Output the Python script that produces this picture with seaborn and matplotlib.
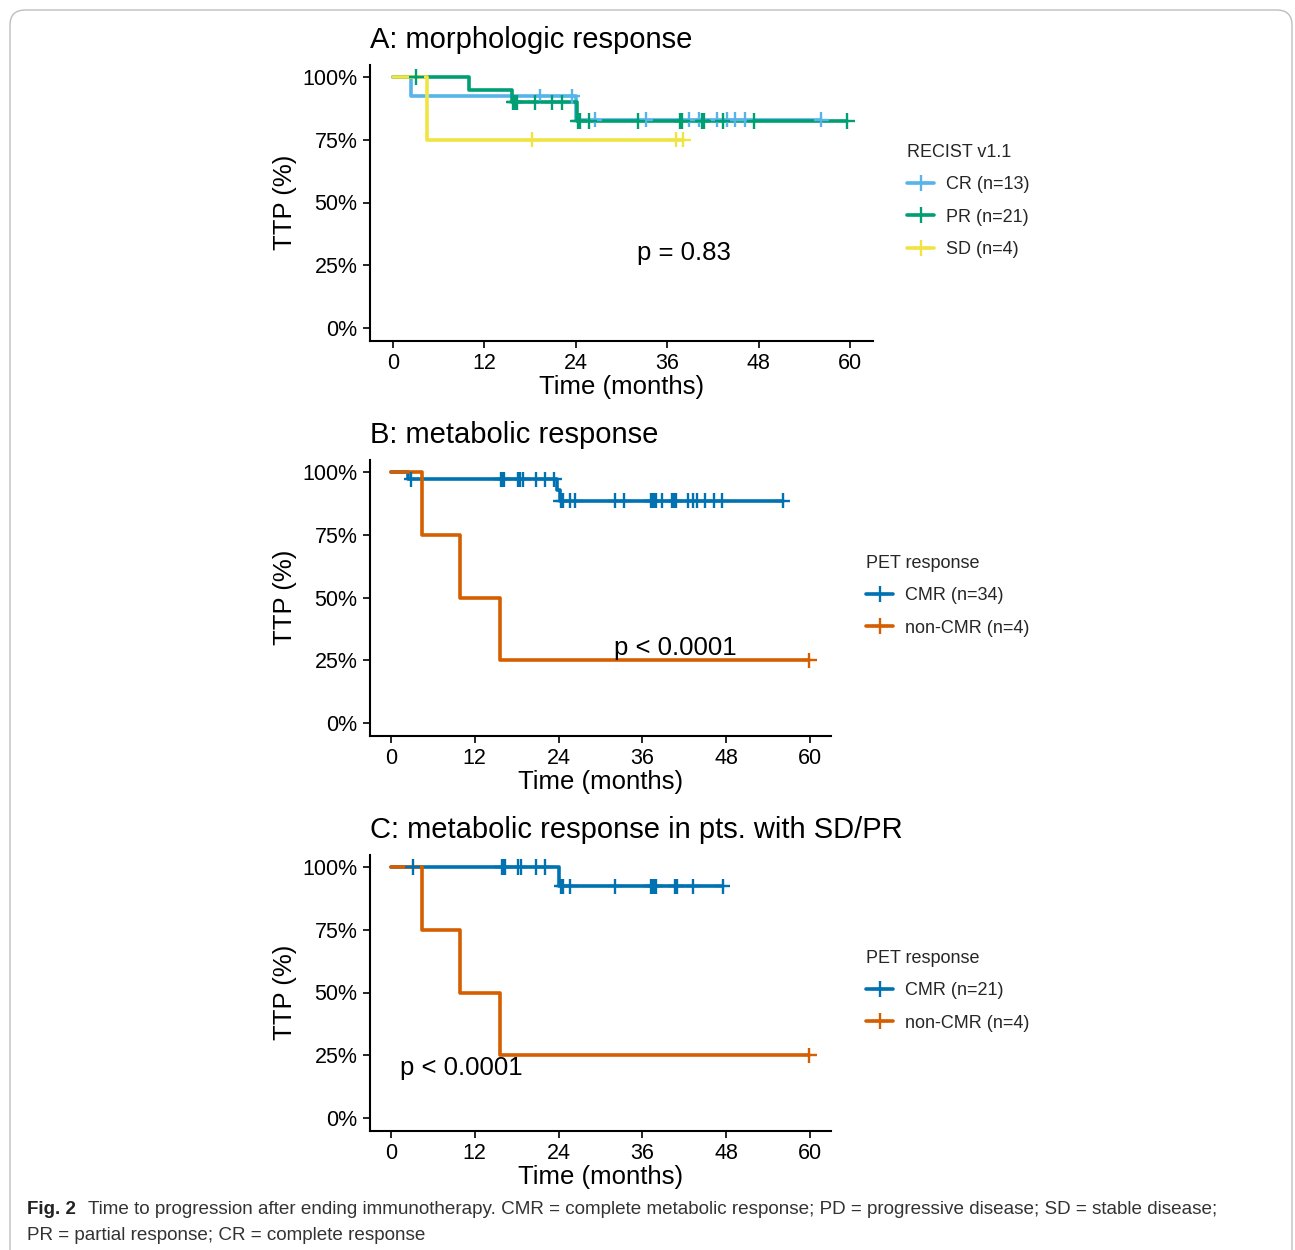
import numpy as np
import pandas as pd
import matplotlib
matplotlib.use("Agg")
import matplotlib.pyplot as plt
import seaborn as sns
from matplotlib.lines import Line2D
from matplotlib.patches import FancyBboxPatch
from matplotlib.ticker import PercentFormatter

# --- panel A: morphologic response (RECIST v1.1), months ---
cr_events = [2.4, 24.0]
cr_censored = [19.3, 23.5, 26.5, 33.2, 38.9, 40.2, 42.5, 43.8, 44.9, 46.2, 56.2]
pr_events = [10.0, 15.6, 24.1]
pr_censored = [3.1, 15.8, 16.0, 16.3, 18.7, 20.9, 22.2, 24.3, 24.5, 25.8,
               32.1, 37.7, 38.0, 40.6, 40.8, 43.3, 47.4, 59.6]
sd_events = [4.5]
sd_censored = [18.2, 37.2, 38.1]

# --- panel B: metabolic response ---
cmr_events = [2.4, 23.8, 24.2]
cmr_censored = [2.9, 15.8, 16.0, 16.2, 18.2, 18.5, 18.9, 20.8, 22.1, 23.4,
                24.3, 24.7, 25.7, 26.4, 32.1, 33.3, 37.2, 37.5, 37.7, 38.0,
                38.8, 40.3, 40.5, 40.8, 42.5, 43.2, 43.8, 44.9, 46.3, 47.4, 56.1]
noncmr_events = [4.4, 9.9, 15.6]
noncmr_censored = [59.9]

# --- panel C: metabolic response in pts. with SD/PR ---
cmr_sdpr_events = [24.1]
cmr_sdpr_censored = [3.1, 15.9, 16.0, 16.3, 18.2, 18.6, 20.8, 22.1,
                     24.4, 24.7, 25.7, 32.1, 37.2, 37.5, 37.7, 37.9, 40.7, 40.9,
                     43.3, 47.5]

panel_titles = ["A: morphologic response", "B: metabolic response",
                "C: metabolic response in pts. with SD/PR"]
p_values = ["p = 0.83", "p < 0.0001", "p < 0.0001"]
x_ticks = [0, 12, 24, 36, 48, 60]
y_ticks = [0, 0.25, 0.5, 0.75, 1.0]

CR_COL, PR_COL, SD_COL = "#56B4E9", "#009E73", "#F0E442"
CMR_COL, NON_COL = "#0072B2", "#D55E00"


def km_steps(events, censored):
    ev = np.array(events)
    ce = np.array(censored)
    t_pts, s_pts, s = [0.0], [1.0], 1.0
    for t in sorted(set(events)):
        at_risk = (ev >= t).sum() + (ce >= t).sum()
        d = (ev == t).sum()
        s *= (at_risk - d) / at_risk
        t_pts.append(t)
        s_pts.append(s)
    t_pts.append(max(list(events) + list(censored)))
    s_pts.append(s)
    return t_pts, s_pts


def build_frames(groups):
    curves, marks = [], []
    for name, events, censored in groups:
        t_pts, s_pts = km_steps(events, censored)
        curves.append(pd.DataFrame({"time": t_pts, "surv": s_pts, "group": name}))
        idx = np.searchsorted(t_pts, censored, side="right") - 1
        marks.append(pd.DataFrame({"time": censored,
                                   "surv": np.array(s_pts)[idx], "group": name}))
    return pd.concat(curves, ignore_index=True), pd.concat(marks, ignore_index=True)


sns.set_style("ticks")
plt.rcParams["font.family"] = ["Liberation Sans", "DejaVu Sans"]

W, H = 1295, 1250
fig = plt.figure(figsize=(W / 100, H / 100), dpi=100)


def px_axes(left, top, right, bottom):
    return fig.add_axes([left / W, 1 - bottom / H, (right - left) / W, (bottom - top) / H])


panels = [
    dict(box=(370, 64.5, 873, 340.5),
         groups=[("CR (n=13)", cr_events, cr_censored),
                 ("PR (n=21)", pr_events, pr_censored),
                 ("SD (n=4)", sd_events, sd_censored)],
         colors=[CR_COL, PR_COL, SD_COL], legend_title="RECIST v1.1",
         legend_at=(898, 135), pval_at=(32.0, 0.30)),
    dict(box=(370, 459.5, 831, 735.5),
         groups=[("CMR (n=34)", cmr_events, cmr_censored),
                 ("non-CMR (n=4)", noncmr_events, noncmr_censored)],
         colors=[CMR_COL, NON_COL], legend_title="PET response",
         legend_at=(857, 546), pval_at=(32.0, 0.30)),
    dict(box=(370, 854.5, 831, 1130.5),
         groups=[("CMR (n=21)", cmr_sdpr_events, cmr_sdpr_censored),
                 ("non-CMR (n=4)", noncmr_events, noncmr_censored)],
         colors=[CMR_COL, NON_COL], legend_title="PET response",
         legend_at=(857, 941), pval_at=(1.3, 0.20)),
]

for i, p in enumerate(panels):
    ax = px_axes(*p["box"])
    curves, marks = build_frames(p["groups"])
    names = [g[0] for g in p["groups"]]
    pal = dict(zip(names, p["colors"]))
    sns.lineplot(data=curves, x="time", y="surv", hue="group", hue_order=names,
                 palette=pal, estimator=None, sort=False, drawstyle="steps-post",
                 lw=2.6, legend=False, ax=ax)
    sns.scatterplot(data=marks, x="time", y="surv", hue="group", hue_order=names,
                    palette=pal, marker="+", s=120, linewidth=1.7, legend=False,
                    ax=ax, zorder=3)
    ax.set_xlim(-3, 63)
    ax.set_ylim(-0.05, 1.05)
    ax.set_xticks(x_ticks)
    ax.set_yticks(y_ticks)
    ax.yaxis.set_major_formatter(PercentFormatter(1.0, decimals=0))
    ax.tick_params(labelsize=15.5, colors="black", length=5, width=1.2, pad=4)
    for s in ["left", "bottom"]:
        ax.spines[s].set_linewidth(1.5)
        ax.spines[s].set_color("black")
    sns.despine(ax=ax)
    ax.set_xlabel("Time (months)", fontsize=18.5, labelpad=1, color="black")
    ax.set_ylabel("TTP (%)", fontsize=18.5, labelpad=4, color="black")
    ax.set_title(panel_titles[i], loc="left", fontsize=21, pad=12, color="black")
    ax.text(p["pval_at"][0], p["pval_at"][1], p_values[i], fontsize=18.5,
            ha="left", va="center", color="black")

    handles = [Line2D([0], [0], color=c, lw=2.6, marker="+", markersize=11, mew=1.7)
               for c in p["colors"]]
    lx, ly = p["legend_at"]
    fig.legend(handles, names, title=p["legend_title"], loc="upper left",
               bbox_to_anchor=(lx / W, 1 - ly / H), frameon=False, fontsize=13,
               title_fontsize=13, alignment="left", borderpad=0,
               handlelength=1.5, handletextpad=0.65, labelspacing=0.85)

# figure frame and caption
frame = FancyBboxPatch((10 / W, -0.1), 1282 / W, 1.1 - 10 / H,
                       boxstyle="round,pad=0,rounding_size=0.012",
                       transform=fig.transFigure, fill=False,
                       edgecolor="#bdbdbd", lw=1.0)
fig.add_artist(frame)

cap_font = ["Liberation Sans", "DejaVu Sans"]
fig.text(27 / W, 1 - 1209 / H, "Fig. 2", fontsize=13.5, fontweight="bold",
         family=cap_font, va="center", color="#222222")
fig.text(88 / W, 1 - 1209 / H,
         "Time to progression after ending immunotherapy. CMR = complete metabolic "
         "response; PD = progressive disease; SD = stable disease;",
         fontsize=13.6, family=cap_font, va="center", color="#333333")
fig.text(27 / W, 1 - 1236 / H, "PR = partial response; CR = complete response",
         fontsize=13.6, family=cap_font, va="center", color="#333333")

fig.savefig("out.png", dpi=100)
